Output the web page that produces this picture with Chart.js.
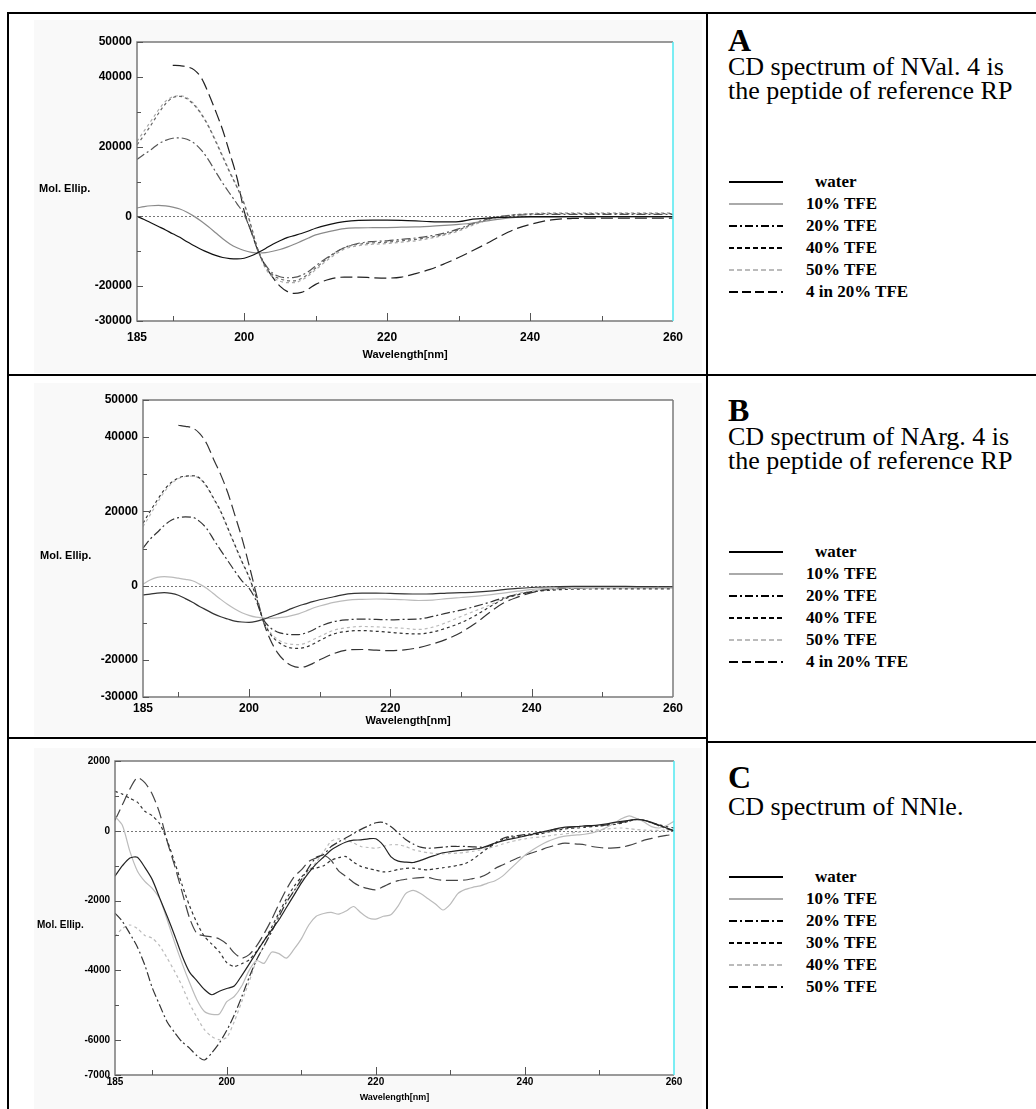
<!DOCTYPE html>
<html>
<head>
<meta charset="utf-8">
<title>CD spectra</title>
<script src="https://cdn.jsdelivr.net/npm/chart.js@4.4.1/dist/chart.umd.min.js"></script>
<style>
  html,body{margin:0;padding:0;background:#fff}
  body{position:relative;width:1036px;height:1109px;overflow:hidden;font-family:'Liberation Serif','Times New Roman',serif;color:#000}
  .rule{position:absolute;background:#000}
  canvas{position:absolute}
  .cap{position:absolute;left:728px;white-space:nowrap}
  .tag{font-weight:bold;font-size:32px;line-height:36px}
  .desc{font-size:26px;line-height:24px}
  .key{position:absolute;left:729px;height:22px;width:300px}
  .key svg{position:absolute;left:0;top:0}
  .key span{position:absolute;top:0;font-weight:bold;font-size:17px;line-height:22px;white-space:nowrap}
</style>
</head>
<body>
<div class="rule" style="left:7px;top:12px;width:1029px;height:2px"></div>
<div class="rule" style="left:7px;top:12px;width:2px;height:1097px"></div>
<div class="rule" style="left:706px;top:12px;width:2px;height:1097px"></div>
<div class="rule" style="left:7px;top:374px;width:1029px;height:2px"></div>
<div class="rule" style="left:7px;top:737px;width:700px;height:2px"></div>
<div class="rule" style="left:707px;top:741px;width:329px;height:2px"></div>

<canvas id="chartA" width="695" height="358" style="left:10px;top:15px"></canvas>
<canvas id="chartB" width="695" height="358" style="left:10px;top:378px"></canvas>
<canvas id="chartC" width="695" height="366" style="left:10px;top:743px"></canvas>

<div class="cap tag" style="top:22px">A</div>
<div class="cap desc" style="top:55px">CD spectrum of NVal. 4 is<br>the peptide of reference RP</div>
<div class="cap tag" style="top:392px">B</div>
<div class="cap desc" style="top:425px">CD spectrum of NArg. 4 is<br>the peptide of reference RP</div>
<div class="cap tag" style="top:759px">C</div>
<div class="cap desc" style="top:795px">CD spectrum of NNle.</div>

<script>
// wavelength grid for panels A and B (nm)
const wlAB = [185,186,187,188,189,190,191,192,193,194,195,196,197,198,199,200,201,202,203,204,205,206,207,208,209,210,
  212,214,216,218,220,222,224,226,228,230,232,234,236,238,240,243,246,250,255,260];

// panel A: NVal
const aWater = [0,-900,-1900,-2900,-3900,-5000,-6000,-7300,-8400,-9500,-10400,-11200,-11800,-12100,-12200,-12000,-11300,-10300,-9200,-8000,
  -7000,-6100,-5500,-4900,-4200,-3400,-2300,-1500,-1150,-1100,-1100,-1150,-1300,-1500,-1600,-1500,-800,-500,-300,-200,-100,-100,-100,-100,-100,-100];
const aTfe10 = [2400,2800,3050,3150,3000,2650,2100,1200,0,-1400,-3000,-4700,-6400,-7900,-9000,-9800,-10300,-10500,-10400,-10000,
  -9500,-8800,-8000,-7100,-6200,-5300,-4300,-3500,-3300,-3250,-3200,-3100,-3000,-2850,-2600,-2300,-1900,-1300,-700,-300,-200,-200,-150,-100,-100,-100];
const aTfe20 = [16300,17800,19200,20800,21800,22400,22500,22100,21000,19000,16200,12800,9500,6500,3600,500,-4500,-10000,-14000,-16300,
  -17300,-17600,-17500,-16900,-15800,-14200,-11300,-9000,-7700,-7200,-7000,-6600,-6200,-5600,-4800,-3600,-2000,-800,0,300,500,600,600,600,600,600];
const aTfe40 = [20500,23300,26300,29500,32300,34000,34400,33700,31900,29300,25800,21500,17000,12500,8300,3500,-3000,-10000,-14500,-16800,
  -17900,-18400,-18500,-17800,-16500,-14800,-11500,-9000,-8000,-7600,-7400,-7000,-6600,-6000,-5100,-3900,-2200,-900,0,500,700,800,800,800,800,800];
const aTfe50 = [21500,24500,27500,30500,33000,34300,34600,34000,32200,29500,26000,21800,17300,12800,8500,3800,-3000,-10200,-15000,-17400,
  -18600,-19000,-19000,-18300,-17000,-15300,-12000,-9400,-8400,-8000,-7800,-7400,-7000,-6300,-5400,-4200,-2500,-1100,-100,500,800,1000,1000,1000,1000,1000];
const aPep4 = [null,null,null,null,null,43300,43200,42900,42000,39700,35300,30200,24700,18000,11000,1500,-4500,-10300,-14300,-17500,
  -20000,-21500,-22100,-21800,-20800,-19500,-18000,-17400,-17400,-17600,-17700,-17400,-16400,-15200,-13600,-11800,-9800,-7700,-5500,-3600,-2300,-1000,-600,-500,-500,-500];

// panel B: NArg
const bWater = [-2500,-2300,-2000,-1900,-2100,-2600,-3500,-4500,-5600,-6600,-7600,-8400,-9000,-9550,-9800,-9900,-9650,-9100,-8400,-7700,
  -7000,-6200,-5500,-4900,-4300,-3800,-3000,-2200,-2000,-2000,-2100,-2200,-2250,-2200,-2000,-1900,-1750,-1500,-1100,-750,-500,-300,-200,-200,-250,-300];
const bTfe10 = [400,1500,2200,2400,2300,2000,1700,1300,400,-700,-2200,-3700,-5100,-6300,-7300,-8000,-8500,-8700,-8800,-8700,
  -8500,-8100,-7600,-6900,-6100,-5500,-4500,-3900,-3700,-3600,-3700,-3800,-4000,-3900,-3500,-3200,-2900,-2500,-2000,-1500,-1000,-700,-550,-500,-500,-500];
const bTfe20 = [10100,12500,14300,16200,17600,18300,18500,18400,17300,15400,12400,9500,6700,3900,1300,-700,-4000,-9000,-11300,-12500,
  -13000,-13200,-13200,-12800,-12000,-11000,-9700,-9200,-9000,-9100,-9200,-9100,-9000,-8300,-7400,-6600,-5600,-4500,-3300,-2400,-1700,-900,-600,-450,-400,-400];
const bTfe40 = [16800,20000,23000,25800,27800,29000,29500,29600,29000,26800,23500,20000,15500,11000,6500,2400,-3000,-9300,-13000,-15000,
  -16200,-16800,-16900,-16600,-15800,-14800,-13000,-12300,-12100,-12300,-12600,-12900,-13000,-12500,-11400,-10000,-8100,-5800,-3700,-2500,-1700,-1200,-950,-900,-900,-900];
const bTfe50 = [15900,19000,22200,25200,27400,28800,29400,29500,28800,26600,23300,19800,15300,10800,6300,2200,-3100,-9200,-12600,-14400,
  -15400,-15800,-15900,-15500,-14600,-13700,-12000,-11300,-11000,-11100,-11300,-11500,-11800,-11200,-9900,-8300,-6800,-5300,-3500,-2200,-1400,-900,-750,-700,-700,-700];
const bPep4 = [null,null,null,null,null,43200,42900,42500,41000,38300,34000,29900,25000,19000,12800,5600,-2000,-9500,-14500,-18000,
  -20200,-21500,-22000,-21800,-21000,-20000,-18300,-17300,-17200,-17400,-17500,-17300,-16700,-15700,-14400,-12600,-10200,-7300,-4700,-3100,-1900,-700,-400,-350,-350,-350];

// panel C: NNle, 1 nm steps
const wlC = [185,186,187,188,189,190,191,192,193,194,195,196,197,198,199,200,201,202,203,204,205,206,207,208,209,210,
  211,212,213,214,215,216,217,218,219,220,221,222,223,224,225,226,227,228,229,230,231,232,233,234,235,236,237,238,239,240,
  241,242,243,244,245,246,247,248,249,250,251,252,253,254,255,256,257,258,259,260];
const cWater = [-1300,-1000,-780,-760,-1050,-1400,-1930,-2450,-3000,-3580,-4050,-4300,-4550,-4700,-4600,-4520,-4450,-4150,-3820,-3480,
  -3150,-2850,-2550,-2200,-1850,-1500,-1200,-950,-750,-550,-420,-320,-270,-260,-230,-230,-420,-740,-870,-900,
  -910,-850,-770,-700,-630,-600,-570,-550,-530,-500,-430,-350,-290,-240,-200,-150,-100,-50,0,50,
  90,110,120,140,150,170,200,240,270,300,330,300,240,160,80,0];
const cTfe10 = [410,150,-590,-1150,-1450,-1650,-1950,-2550,-3200,-3800,-4350,-4850,-5180,-5260,-5250,-4900,-4750,-4450,-4000,-3720,
  -3800,-3480,-3520,-3650,-3400,-3100,-2700,-2450,-2370,-2340,-2390,-2300,-2170,-2350,-2500,-2530,-2450,-2410,-2150,-1800,
  -1710,-1800,-1950,-2100,-2270,-2100,-1800,-1680,-1620,-1580,-1500,-1430,-1300,-1100,-900,-700,-550,-420,-310,-230,
  -170,-140,-120,-100,-60,0,100,220,350,430,350,250,120,80,150,270];
const cTfe20 = [-2360,-2600,-2950,-3330,-3850,-4500,-5000,-5480,-5780,-6050,-6230,-6450,-6570,-6360,-6080,-5720,-5280,-4760,-4200,-3700,
  -3300,-2900,-2460,-2050,-1730,-1400,-1050,-760,-680,-450,-320,-200,-80,40,140,230,240,120,-60,-250,
  -380,-470,-500,-490,-470,-450,-450,-450,-460,-470,-450,-350,-220,-160,-140,-110,-80,-50,-20,40,
  80,100,120,130,135,140,170,200,240,280,320,300,230,140,60,0];
const cTfe30 = [1130,1050,930,820,560,430,200,-280,-900,-1550,-2150,-2640,-3030,-3250,-3470,-3780,-3890,-3810,-3700,-3450,
  -3150,-2770,-2350,-1950,-1600,-1330,-1120,-1070,-1000,-850,-770,-740,-900,-1020,-1080,-1130,-1180,-1160,-1110,-1080,
  -1070,-1100,-1120,-1090,-1060,-1030,-990,-940,-820,-660,-500,-370,-250,-190,-165,-140,-110,-90,-40,0,
  40,70,80,100,120,140,160,180,220,280,330,300,230,170,120,80];
const cTfe40 = [-3030,-2800,-2700,-2800,-3000,-3080,-3300,-3650,-4030,-4450,-4950,-5350,-5700,-5900,-5990,-5920,-5470,-4900,-4330,-3700,
  -3300,-2870,-2400,-2050,-1720,-1450,-1150,-900,-600,-300,-230,-260,-350,-450,-480,-500,-450,-400,-400,-450,
  -540,-590,-630,-650,-660,-650,-640,-620,-590,-545,-500,-450,-380,-320,-270,-230,-200,-180,-150,-120,
  -100,-70,-40,-20,10,30,50,70,80,60,35,20,10,10,20,30];
const cTfe50 = [300,750,1200,1520,1380,1050,500,-300,-1000,-1750,-2500,-2950,-3010,-3040,-3100,-3250,-3500,-3650,-3550,-3300,
  -2950,-2550,-2100,-1680,-1330,-1120,-880,-780,-700,-850,-1150,-1310,-1480,-1600,-1660,-1690,-1600,-1500,-1430,-1390,
  -1360,-1340,-1340,-1390,-1420,-1420,-1420,-1410,-1370,-1330,-1230,-1080,-980,-880,-780,-700,-630,-560,-480,-420,
  -360,-360,-380,-400,-450,-480,-500,-490,-470,-420,-350,-270,-220,-170,-130,-110];

// axes
const xTickLabels = [185,200,220,240,260];
const xMarks = [190,200,210,220,230,240,250];
const xMajorMarks = [200,220,240];
const yLabelsAB = [-30000,-20000,0,20000,40000,50000];
const yMinorAB = [-10000,10000,30000];
const yLabelsC = [-7000,-6000,-4000,-2000,0,2000];
const yMinorC = [-5000,-3000,-1000,1000];

const namesAB = ['water','10% TFE','20% TFE','40% TFE','50% TFE','4 in 20% TFE'];
const namesC = ['water','10% TFE','20% TFE','30% TFE','40% TFE','50% TFE'];

const AXFONT = "'Liberation Sans',Arial,sans-serif";
const SOLID = [], DASHDOT = [9,3,2,3], SHORT = [3,3], LONG = [12,5];

const stylesA = [
  {color:'#111', dash:SOLID}, {color:'#8a8a8a', dash:SOLID}, {color:'#555', dash:DASHDOT},
  {color:'#666', dash:SHORT}, {color:'#aaa', dash:SHORT}, {color:'#222', dash:LONG}];
const stylesB = [
  {color:'#333', dash:SOLID}, {color:'#bbb', dash:SOLID}, {color:'#333', dash:DASHDOT},
  {color:'#333', dash:SHORT}, {color:'#bbb', dash:SHORT}, {color:'#333', dash:LONG}];
const stylesC = [
  {color:'#222', dash:SOLID}, {color:'#bbb', dash:SOLID}, {color:'#333', dash:DASHDOT},
  {color:'#333', dash:SHORT}, {color:'#bbb', dash:SHORT}, {color:'#444', dash:LONG}];

const keyStylesAB = [
  {color:'#000', dash:''}, {color:'#aaa', dash:''}, {color:'#000', dash:'8 3 2 3'},
  {color:'#000', dash:'5 3'}, {color:'#bbb', dash:'5 3'}, {color:'#000', dash:'9 4'}];
const keyStylesC = [
  {color:'#000', dash:''}, {color:'#aaa', dash:''}, {color:'#000', dash:'8 3 2 3'},
  {color:'#000', dash:'5 3'}, {color:'#bbb', dash:'5 3'}, {color:'#000', dash:'9 4'}];

// frame, inner tick marks, zero line and y caption
function makeFrame(p){
  return {
    id: 'frame',
    beforeDraw(chart){
      const {ctx, chartArea: a} = chart;
      ctx.save();
      ctx.fillStyle = '#f9f9f9';
      ctx.fillRect(24, 5, chart.width - 27, chart.height - 5);
      ctx.fillStyle = '#fff';
      ctx.fillRect(a.left, a.top, a.right - a.left, a.bottom - a.top);
      ctx.restore();
    },
    beforeDatasetsDraw(chart){
      const {ctx, chartArea: a, scales: {y}} = chart;
      const y0 = Math.round(y.getPixelForValue(0)) + 0.5;
      ctx.save();
      ctx.strokeStyle = '#777'; ctx.lineWidth = 1; ctx.setLineDash([2,2]);
      ctx.beginPath(); ctx.moveTo(a.left, y0); ctx.lineTo(a.right, y0); ctx.stroke();
      ctx.restore();
    },
    afterDatasetsDraw(chart){
      const {ctx, chartArea: a, scales: {x, y}} = chart;
      ctx.save();
      ctx.setLineDash([]);
      ctx.lineWidth = 1.5;
      ctx.strokeStyle = '#7a7a7a';
      ctx.beginPath();
      ctx.moveTo(a.right, a.top); ctx.lineTo(a.left, a.top); ctx.lineTo(a.left, a.bottom); ctx.lineTo(a.right, a.bottom);
      ctx.stroke();
      ctx.strokeStyle = p.rightColor;
      ctx.beginPath(); ctx.moveTo(a.right, a.top); ctx.lineTo(a.right, a.bottom); ctx.stroke();
      ctx.lineWidth = 1; ctx.strokeStyle = '#555';
      ctx.beginPath();
      xMarks.forEach(v => {
        const px = Math.round(x.getPixelForValue(v)) + 0.5;
        ctx.moveTo(px, a.bottom); ctx.lineTo(px, a.bottom - (xMajorMarks.includes(v) ? 8 : 5));
      });
      p.yLabels.forEach(v => {
        const py = Math.round(y.getPixelForValue(v)) + 0.5;
        ctx.moveTo(a.left, py); ctx.lineTo(a.left + 6, py);
      });
      p.yMinor.forEach(v => {
        const py = Math.round(y.getPixelForValue(v)) + 0.5;
        ctx.moveTo(a.left, py); ctx.lineTo(a.left + 4, py);
      });
      ctx.stroke();
      ctx.fillStyle = '#000';
      ctx.font = `bold ${p.capFs}px ${AXFONT}`;
      ctx.textAlign = 'left'; ctx.textBaseline = 'middle';
      ctx.fillText('Mol. Ellip.', p.capX, (a.top + a.bottom) / 2 + 7);
      ctx.restore();
    }
  };
}

function drawPanel(p){
  const el = document.getElementById(p.id);
  const font = {family: AXFONT, size: p.fs, weight: 'bold'};
  new Chart(el, {
    type: 'line',
    data: {
      datasets: p.series.map((vals, i) => ({
        label: p.names[i],
        data: p.wl.map((w, j) => ({x: w, y: vals[j]})),
        borderColor: p.styles[i].color,
        borderDash: p.styles[i].dash,
        borderWidth: 1.2,
        pointRadius: 0,
        fill: false,
        tension: p.tension,
        cubicInterpolationMode: p.mono ? 'monotone' : 'default'
      }))
    },
    options: {
      responsive: false, animation: false, events: [],
      layout: {padding: {left: 0, top: p.padTop, right: p.padRight, bottom: 0}},
      plugins: {legend: {display: false}, tooltip: {enabled: false}},
      scales: {
        x: {
          type: 'linear', min: 185, max: 260,
          grid: {display: false, drawTicks: false}, border: {display: false},
          afterBuildTicks: s => { s.ticks = xTickLabels.map(v => ({value: v})); },
          afterFit: s => { s.height = p.xH; },
          ticks: {color: '#000', font, padding: p.xPad, maxRotation: 0, autoSkip: false, callback: v => String(v)},
          title: {display: true, text: 'Wavelength[nm]', color: '#000',
                  font: {family: AXFONT, size: p.titleFs, weight: 'bold'}, padding: {top: 0, bottom: p.titlePad}}
        },
        y: {
          type: 'linear', min: p.yLabels[0], max: p.yLabels[p.yLabels.length - 1],
          grid: {display: false, drawTicks: false}, border: {display: false},
          afterBuildTicks: s => { s.ticks = p.yLabels.map(v => ({value: v})); },
          afterFit: s => { s.width = p.yW; },
          ticks: {color: '#000', font, padding: 5, autoSkip: false, callback: v => String(v)}
        }
      }
    },
    plugins: [makeFrame(p)]
  });
}

function buildKey(top, step, names, keyStyles){
  names.forEach((name, i) => {
    const s = keyStyles[i];
    const row = document.createElement('div');
    row.className = 'key';
    row.style.top = (top + i * step) + 'px';
    const label = name.startsWith('4 ') ? '<b>4</b>' + name.slice(1) : name;
    row.innerHTML = `<svg width="56" height="22"><line x1="0" y1="11" x2="54" y2="11" stroke="${s.color}" stroke-width="2" stroke-dasharray="${s.dash}"/></svg>` +
      `<span style="left:${i === 0 ? 86 : 77}px">${label}</span>`;
    document.body.appendChild(row);
  });
}

drawPanel({id: 'chartA', wl: wlAB, series: [aWater, aTfe10, aTfe20, aTfe40, aTfe50, aPep4], names: namesAB, styles: stylesA,
  yLabels: yLabelsAB, yMinor: yMinorAB, fs: 12, titleFs: 11, capFs: 11, yW: 127, xH: 52, padTop: 27, padRight: 32, xPad: 9, titlePad: 11,
  rightColor: '#4fe8f0', capX: 29, mono: true, tension: 0.4});
drawPanel({id: 'chartB', wl: wlAB, series: [bWater, bTfe10, bTfe20, bTfe40, bTfe50, bPep4], names: namesAB, styles: stylesB,
  yLabels: yLabelsAB, yMinor: yMinorAB, fs: 12, titleFs: 11, capFs: 11, yW: 133, xH: 39, padTop: 22, padRight: 32, xPad: 4, titlePad: 8,
  rightColor: '#7a7a7a', capX: 30, mono: true, tension: 0.4});
drawPanel({id: 'chartC', wl: wlC, series: [cWater, cTfe10, cTfe20, cTfe30, cTfe40, cTfe50], names: namesC, styles: stylesC,
  yLabels: yLabelsC, yMinor: yMinorC, fs: 10, titleFs: 9, capFs: 10, yW: 105, xH: 34, padTop: 18, padRight: 31, xPad: 1, titlePad: 6,
  rightColor: '#4fe8f0', capX: 27, mono: false, tension: 0.25});

buildKey(171, 22, namesAB, keyStylesAB);
buildKey(541, 22, namesAB, keyStylesAB);
buildKey(866, 22, namesC, keyStylesC);
</script>
</body>
</html>
